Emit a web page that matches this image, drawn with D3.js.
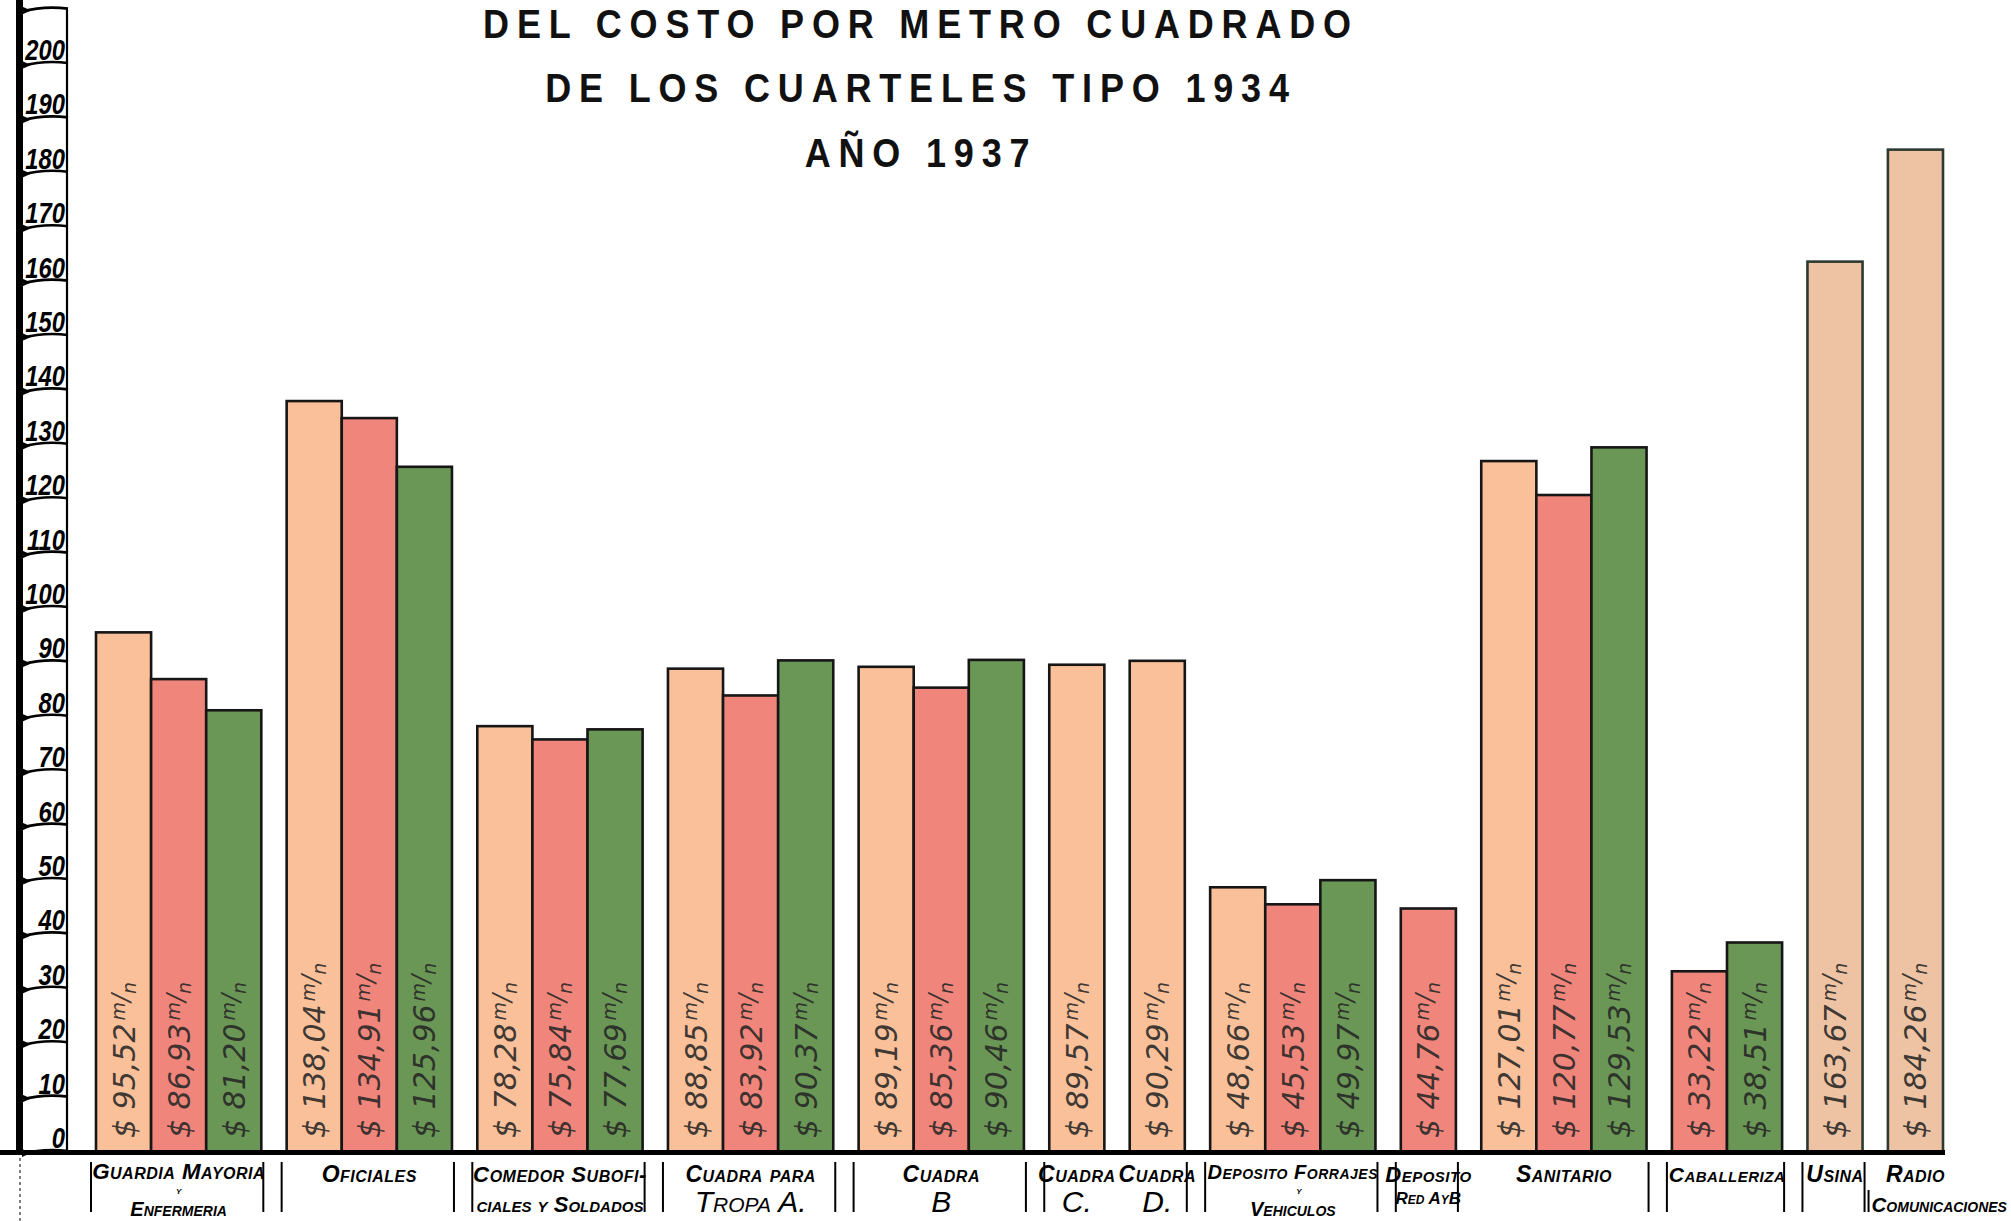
<!DOCTYPE html>
<html>
<head>
<meta charset="utf-8">
<script src="https://cdn.jsdelivr.net/npm/d3@7"></script>
<style>
  body { margin: 0; background: #fff; }
  svg { display: block; background: #fff; }
</style>
</head>
<body>
<svg id="chart" width="2011" height="1221"></svg>
<script>
// ---- Data -------------------------------------------------------------
const titleLines = ["DEL COSTO POR METRO CUADRADO", "DE LOS CUARTELES TIPO 1934", "AÑO 1937"];

const categories = [
  "Guardia Mayoria y Enfermeria", "Oficiales", "Comedor Suboficiales y Soldados",
  "Cuadra para Tropa A.", "Cuadra B", "Cuadra C.", "Cuadra D.",
  "Deposito Forrajes y Vehiculos", "Deposito Red A y B", "Sanitario",
  "Caballeriza", "Usina", "Radio Comunicaciones"
];

// label lines written under each group
const labelTop    = ["Guardia Mayoria", "Oficiales", "Comedor Subofi-", "Cuadra para", "Cuadra", "Cuadra", "Cuadra",
                     "Deposito Forrajes", "Deposito", "Sanitario", "Caballeriza", "Usina", "Radio"];
const labelMid    = ["y", "", "", "", "", "", "", "y", "Red AyB", "", "", "", ""];
const labelBottom = ["Enfermeria", "", "ciales y Soldados", "Tropa A.", "B", "C.", "D.",
                     "Vehiculos", "", "", "", "", "Comunicaciones"];

// cost per square metre ($ m/n), three series per building type (null = not built)
const costoSerie1 = [95.52, 138.04, 78.28, 88.85, 89.19, 89.57, 90.29, 48.66, null, 127.01, null, 163.67, 184.26];
const costoSerie2 = [86.93, 134.91, 75.84, 83.92, 85.36, null, null, 45.53, 44.76, 120.77, 33.22, null, null];
const costoSerie3 = [81.20, 125.96, 77.69, 90.37, 90.46, null, null, 49.97, null, 129.53, 38.51, null, null];

const yTickValues  = d3.range(0, 211, 10);
const yLabelValues = d3.range(0, 201, 10);

// ---- Layout -----------------------------------------------------------
const svg = d3.select("#chart");
const baseY = 1152;
const y = d3.scaleLinear().domain([0, 210]).range([baseY, baseY - 210 * 5.44]);

const seriesList = [costoSerie1, costoSerie2, costoSerie3];
const fills = ["#F9C09A", "#F0867B", "#6A9755"];
const tanFill = "#EEC3A3";          // the two single service buildings are washed a duller tan
const tanCats = new Set([11, 12]);

// slot units: each bar = 1, gap between groups = GAP
const GAP = 0.46;
const bars = [];
const spans = [];
let u = 0;
categories.forEach((c, i) => {
  if (i > 0) u += GAP;
  const u0 = u;
  seriesList.forEach((s, k) => {
    if (s[i] != null) { bars.push({ cat: i, k, v: s[i], u }); u += 1; }
  });
  spans.push({ u0, u1: u });
});
const x = d3.scaleLinear().domain([0, u]).range([96, 1943]);
const barW = x(1) - x(0);

// ---- Title ------------------------------------------------------------
const titleY = [38, 102, 167];
titleLines.forEach((t, i) => {
  svg.append("g")
    .attr("transform", `translate(921,${titleY[i]}) scale(0.9,1)`)
    .append("text")
    .attr("text-anchor", "middle")
    .attr("font-family", "Liberation Sans, Arial, sans-serif")
    .attr("font-weight", "bold")
    .attr("font-size", 40)
    .attr("letter-spacing", 8.7)
    .attr("fill", "#111")
    .text(t);
});

// ---- Y axis (ruled boxes) ---------------------------------------------
const axisG = svg.append("g");
axisG.append("line")
  .attr("x1", 20).attr("x2", 20).attr("y1", baseY).attr("y2", 1221)
  .attr("stroke", "#555").attr("stroke-width", 1.5).attr("stroke-dasharray", "3,3");
axisG.append("rect")
  .attr("x", 16).attr("y", 0).attr("width", 7).attr("height", baseY + 3)
  .attr("fill", "#000");
axisG.append("line")
  .attr("x1", 67).attr("x2", 67).attr("y1", y(210)).attr("y2", baseY)
  .attr("stroke", "#000").attr("stroke-width", 2.2);

axisG.selectAll("path.tick").data(yTickValues).join("path")
  .attr("class", "tick")
  .attr("d", v => `M22,${y(v) + 2} Q44,${y(v) - 4} 68,${y(v) - 1}`)
  .attr("fill", "none").attr("stroke", "#000").attr("stroke-width", 2.6);
axisG.selectAll("path.wedge").data(yTickValues).join("path")
  .attr("class", "wedge")
  .attr("d", v => `M22,${y(v) - 3} L22,${y(v) + 5} L31,${y(v) + 1} Z`)
  .attr("fill", "#000");

axisG.selectAll("text").data(yLabelValues).join("text")
  .attr("transform", v => `translate(65,${y(v) - 4}) scale(0.82,1)`)
  .attr("text-anchor", "end")
  .attr("font-family", "Liberation Sans, Arial, sans-serif")
  .attr("font-weight", "bold").attr("font-style", "italic")
  .attr("font-size", 29)
  .attr("fill", "#000")
  .text(v => v);

// ---- Bars -------------------------------------------------------------
const barG = svg.append("g");
barG.selectAll("rect").data(bars).join("rect")
  .attr("x", d => x(d.u))
  .attr("y", d => y(d.v))
  .attr("width", barW)
  .attr("height", d => baseY - y(d.v))
  .attr("fill", d => tanCats.has(d.cat) ? tanFill : fills[d.k])
  .attr("stroke", d => tanCats.has(d.cat) ? "#2c3a30" : "#161616")
  .attr("stroke-width", 2.6);

// baseline
svg.append("rect")
  .attr("x", 0).attr("y", baseY - 2)
  .attr("width", x(u) + 2).attr("height", 5)
  .attr("fill", "#000");

// value labels written up each bar
const fmt = v => d3.format(".2f")(v).replace(".", ",");
const valG = barG.selectAll("text.val").data(bars).join("text")
  .attr("class", "val")
  .attr("transform", d => `translate(${x(d.u) + barW / 2 + 11},${baseY - 14}) rotate(-90)`)
  .attr("font-family", "DejaVu Sans, sans-serif")
  .attr("font-style", "italic")
  .attr("font-size", 30)
  .attr("fill", "#262626")
  .attr("fill-opacity", 0.9);
valG.append("tspan").text(d => "$ " + fmt(d.v));
valG.append("tspan").attr("dx", 3).attr("dy", -10).attr("font-size", 19).text("m");
valG.append("tspan").attr("dy", 4).attr("font-size", 24).text("/");
valG.append("tspan").attr("dy", 7).attr("font-size", 19).text("n");

// ---- Category labels --------------------------------------------------
const labG = svg.append("g")
  .attr("font-family", "Liberation Sans, Arial, sans-serif")
  .attr("font-weight", "bold")
  .attr("font-style", "italic")
  .attr("fill", "#000")
  .style("font-variant", "small-caps");

const cx = i => (x(spans[i].u0) + x(spans[i].u1)) / 2;
const spanW = i => x(spans[i].u1) - x(spans[i].u0);
const roomFor = i => Math.max(spanW(i) + 4, 88);
const bigLetters = new Set(["Tropa A.", "B", "C.", "D."]);
const sepLeftX = i => i === 12 ? x(spans[11].u1) + 6 : x(spans[i].u0) - 5;

// shrink a line so it fits the room it has
function fit(sel, size, room) {
  sel.attr("font-size", size);
  const w = sel.node().getComputedTextLength();
  if (w > room) sel.attr("font-size", size * room / w);
}

categories.forEach((c, i) => {
  const hasY = labelMid[i] === "y";          // three stacked lines: keep them tight
  const topY = hasY ? 1179 : 1182;
  const botY = hasY ? 1216 : 1212;

  const top = labG.append("text").attr("text-anchor", "middle")
    .attr("x", cx(i)).attr("y", topY)
    .attr("letter-spacing", 0.5).text(labelTop[i]);
  fit(top, 23, roomFor(i));

  if (hasY) {
    labG.append("text").attr("text-anchor", "middle")
      .attr("x", cx(i) + (i === 7 ? 6 : 0)).attr("y", 1194)
      .attr("font-size", 12).text("y");
  } else if (labelMid[i]) {
    const mid = labG.append("text").attr("text-anchor", "middle")
      .attr("x", cx(i)).attr("y", 1204).text(labelMid[i]);
    fit(mid, 17, roomFor(i));
  }
  if (labelBottom[i]) {
    const big = bigLetters.has(labelBottom[i]);
    const bot = labG.append("text").attr("y", botY)
      .attr("font-weight", big ? "normal" : "bold")
      .text(labelBottom[i]);
    const size = big ? 30 : (hasY ? 20 : 22);
    bot.attr("font-size", size);
    const w = bot.node().getComputedTextLength();
    if (w > spanW(i) + 22) {
      // long last line runs from the block's left rule to the page edge
      const start = sepLeftX(i) + 3;
      bot.attr("x", start).attr("text-anchor", "start");
      fit(bot, size, 2007 - start);
    } else {
      bot.attr("x", cx(i)).attr("text-anchor", "middle");
    }
  }
});

// separators between label blocks
const sepG = svg.append("g").attr("stroke", "#000").attr("stroke-width", 2);
const noLeft = new Set([6, 9]);    // Cuadra D shares a block with C; Sanitario follows Deposito
const noRight = new Set([5, 12]);  // Cuadra C shares a block with D; Radio is the last block
categories.forEach((c, i) => {
  const left = sepLeftX(i), right = x(spans[i].u1) + 2;
  if (!noLeft.has(i)) {
    sepG.append("line").attr("x1", left).attr("x2", left)
      .attr("y1", i === 12 ? 1190 : 1162).attr("y2", 1212);
  }
  if (!noRight.has(i)) {
    sepG.append("line").attr("x1", right).attr("x2", right).attr("y1", 1162).attr("y2", 1212);
  }
});
</script>
</body>
</html>
